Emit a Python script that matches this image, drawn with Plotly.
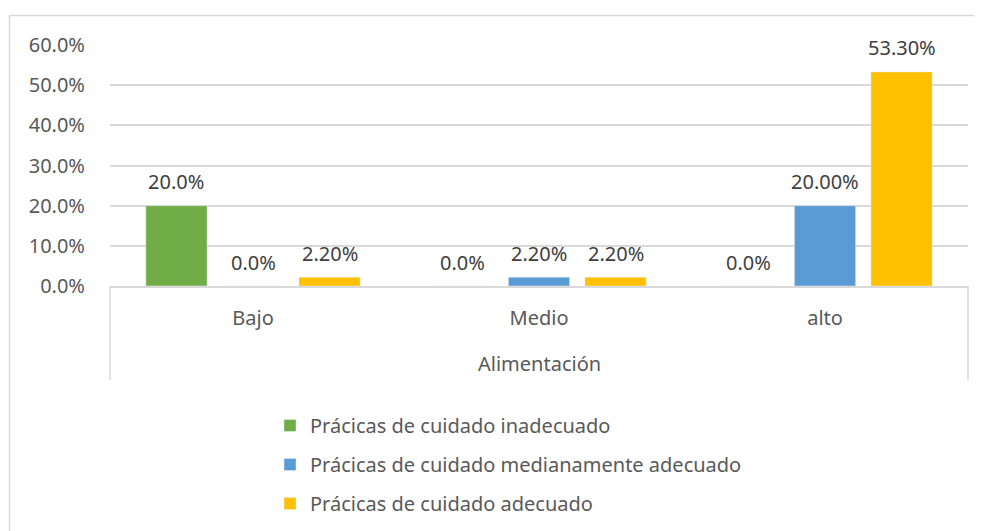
import plotly.graph_objects as go

categories = ["Bajo", "Medio", "alto"]
series_names = [
    "Prácicas de cuidado inadecuado",
    "Prácicas de cuidado medianamente adecuado",
    "Prácicas de cuidado adecuado",
]
inadecuado = [0.200, 0.000, 0.000]
medianamente = [0.000, 0.022, 0.200]
adecuado = [0.022, 0.022, 0.533]
labels_inadecuado = ["20.0%", "0.0%", "0.0%"]
labels_medianamente = ["0.0%", "2.20%", "20.00%"]
labels_adecuado = ["2.20%", "2.20%", "53.30%"]
colors = ["#70AD47", "#5B9BD5", "#FFC000"]
y_ticks = [0, 0.1, 0.2, 0.3, 0.4, 0.5, 0.6]

OX, OY = 8, 8  # page body margin
W, H = 982, 531
# plot area in screen coordinates
SX0, SX1, SY0, SY1 = 110, 968, 45, 286
L, T = SX0 - OX, SY0 - OY
R = W - (SX1 - OX)
B = H - (SY1 - OY)
PW, PH = SX1 - SX0, SY1 - SY0

def px(x):
    return (x - SX0) / PW

def py(y):
    return (SY1 - y) / PH

FONT = "Noto Sans"
FS = 20
GRAY = "#595959"
BARGAP, BARGROUPGAP = 0.197, 0.2

fig = go.Figure()
all_vals = [inadecuado, medianamente, adecuado]
all_labs = [labels_inadecuado, labels_medianamente, labels_adecuado]
for name, vals, col in zip(series_names, all_vals, colors):
    fig.add_trace(go.Bar(
        x=categories, y=vals, name=name, marker_color=col,
        legendgroup=name,
    ))

# data labels positioned via the axes
slot = PW / len(categories) * (1 - BARGAP) / len(series_names)
annotations = []
for i, (vals, labs) in enumerate(zip(all_vals, all_labs)):
    for c, v, t in zip(categories, vals, labs):
        annotations.append(dict(
            x=c, y=v, xref="x", yref="y", text=t, showarrow=False,
            xshift=(i - 1) * slot, yshift=24, yanchor="middle", xanchor="center",
            font=dict(family=FONT, size=FS, color="#404040"),
        ))
annotations.append(dict(
    text="Alimentación", xref="paper", yref="paper", x=0.5, y=py(363),
    xanchor="center", yanchor="middle", showarrow=False,
    font=dict(family=FONT, size=FS, color=GRAY),
))

shapes = [
    dict(type="line", xref="paper", yref="paper", x0=px(9), x1=px(1000), y0=py(15.5), y1=py(15.5),
         line=dict(color="#d9d9d9", width=1.5)),
    dict(type="line", xref="paper", yref="paper", x0=px(9.5), x1=px(9.5), y0=py(15), y1=py(560),
         line=dict(color="#d9d9d9", width=1.5)),
    dict(type="line", xref="paper", yref="paper", x0=0, x1=0, y0=0, y1=py(380),
         line=dict(color="#d9d9d9", width=1.5)),
    dict(type="line", xref="paper", yref="paper", x0=1, x1=1, y0=0, y1=py(380),
         line=dict(color="#d9d9d9", width=1.5)),
]

fig.update_layout(
    width=W, height=H,
    margin=dict(l=L, r=R, t=T, b=B),
    paper_bgcolor="white", plot_bgcolor="white",
    barmode="group", bargap=BARGAP, bargroupgap=BARGROUPGAP,
    font=dict(family=FONT, size=FS, color=GRAY),
    shapes=shapes,
    annotations=annotations,
    showlegend=True,
    legend=dict(
        x=px(270), y=py(406), xanchor="left", yanchor="top",
        orientation="v", traceorder="grouped", tracegroupgap=10,
        font=dict(family=FONT, size=FS, color=GRAY),
        bgcolor="rgba(0,0,0,0)",
    ),
)
fig.update_xaxes(
    showline=True, linecolor="#d9d9d9", linewidth=1.5,
    ticks="outside", ticklen=13, tickcolor="rgba(0,0,0,0)",
    tickfont=dict(family=FONT, size=FS, color=GRAY),
    showgrid=False, zeroline=False,
)
fig.update_yaxes(
    range=[0, 0.6], tickvals=y_ticks, tickformat=".1%",
    showgrid=True, gridcolor="#d9d9d9", gridwidth=1.5,
    ticks="outside", ticklen=20, tickcolor="rgba(0,0,0,0)",
    tickfont=dict(family=FONT, size=FS, color=GRAY),
    zeroline=False, showline=False,
)

fig.write_html("out.html")
